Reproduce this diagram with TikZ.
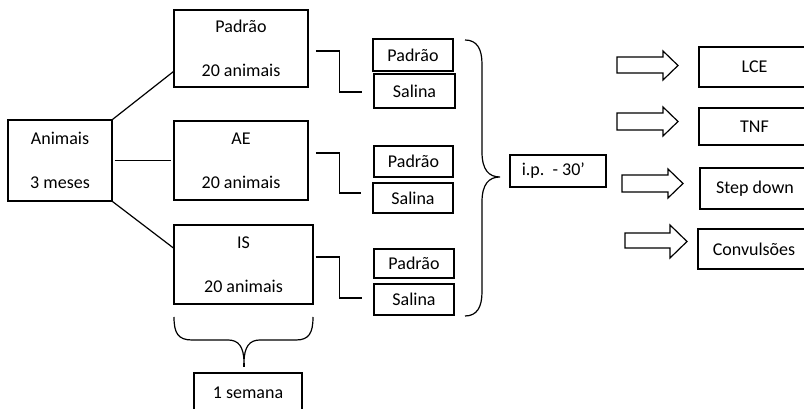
\documentclass[tikz,border=0pt]{standalone}
\usepackage{fontspec}
\setmainfont{Carlito}
\newcommand\pxu{0.75pt}
% block arrow: shaft from x1 to x2 (head start), tip at x3; shaft y-range, head y-range
\newcommand\fatarrow[7]{%
  \draw[line] (#1,#4) -- (#2,#4) -- (#2,#6) -- (#3,{(#6+#7)/2}) -- (#2,#7) -- (#2,#5) -- (#1,#5) -- cycle;}
\begin{document}
\begin{tikzpicture}[x=0.75pt,y=-0.75pt,
  line/.style={draw=black,line width=0.9pt},
  box/.style={draw=black,line width=0.9pt,inner sep=0pt,align=center,
    font=\fontsize{13.5}{33}\selectfont},
  small/.style={box,font=\fontsize{13.5}{15}\selectfont},
  conn/.style={line width=0.9pt}]
\clip (0,0) rectangle (804,409);

% first column
\node[box,minimum width=104*\pxu,minimum height=81*\pxu] (a) at (60,160.5) {Animais\\3 meses};

% groups
\node[box,minimum width=134*\pxu,minimum height=77*\pxu] (p1) at (241,48.5) {Padrão\\20 animais};
\node[box,minimum width=134*\pxu,minimum height=79*\pxu] (ae) at (241,160.5) {AE\\20 animais};
\node[box,minimum width=139*\pxu,minimum height=79*\pxu] (is) at (243.5,264.5) {IS\\20 animais};
\node[small,minimum width=108*\pxu,minimum height=40*\pxu] (sem) at (248,393) {1 semana};

% treatments
\node[small,minimum width=80*\pxu,minimum height=32*\pxu] (pa1) at (413,55) {Padrão};
\node[small,minimum width=81*\pxu,minimum height=34*\pxu] (sa1) at (414.5,91) {Salina};
\node[small,minimum width=79*\pxu,minimum height=31*\pxu] (pa2) at (413.5,161.5) {Padrão};
\node[small,minimum width=80*\pxu,minimum height=30*\pxu] (sa2) at (413,198) {Salina};
\node[small,minimum width=80*\pxu,minimum height=29*\pxu] (pa3) at (414,263.5) {Padrão};
\node[small,minimum width=80*\pxu,minimum height=31*\pxu] (sa3) at (414,299.5) {Salina};

% injection
\node[small,minimum width=96*\pxu,minimum height=32*\pxu] (ip) at (558,171) {i.p.\ \ - 30’\hspace*{7pt}};

% tests
\node[small,minimum width=111*\pxu,minimum height=40*\pxu] (lce) at (754.5,67) {LCE};
\node[small,minimum width=111*\pxu,minimum height=37*\pxu] (tnf) at (754.5,126.5) {TNF};
\node[small,minimum width=110*\pxu,minimum height=41*\pxu] (sd) at (755,188.5) {Step down};
\node[small,minimum width=112*\pxu,minimum height=40*\pxu] (cv) at (754,249) {Convulsões};

% links from the animal box
\draw[conn] (a.north east) -- ([yshift=12pt]p1.south west);
\draw[conn,shorten <=1.5pt,shorten >=1.5pt] (a.east) -- (ae.west);
\draw[conn] (a.south east) -- ([yshift=12.4pt]is.west);

% elbow links to the treatments
\draw[conn,shorten <=5.5pt,shorten >=8.2pt] ([yshift=-1.9pt]p1.east) -- ++(31,0) |- ([yshift=-0.75pt]sa1.west);
\draw[conn,shorten <=5.5pt,shorten >=8.2pt] ([yshift=5.6pt]ae.east) -- ++(31,0) |- ([yshift=3.75pt]sa2.west);
\draw[conn,shorten <=1.5pt,shorten >=8.2pt] ([yshift=5.6pt]is.east) -- ++(26,0) |- ([yshift=1.1pt]sa3.west);

% brace under the groups
\draw[conn] (174,317) .. controls (174,333) and (178,340) .. (192,340) -- (228,340)
  .. controls (238,340) and (244,346) .. (244,363)
  .. controls (244,346) and (250,340) .. (260,340) -- (296,340)
  .. controls (309,340) and (313,333) .. (313,317);
\draw[conn] (244,363) -- (244,367);

% brace joining the treatments
\draw[conn] (465,40) .. controls (477,40) and (482,49) .. (482,64) -- (482,152)
  .. controls (482,170) and (489,177) .. (500,177)
  .. controls (489,177) and (482,184) .. (482,202) -- (482,292)
  .. controls (482,307) and (477,316) .. (465,316);

% block arrows towards the tests
\fatarrow{617}{663}{678}{57}{73}{51}{80}
\fatarrow{617}{663}{678}{113}{130}{107}{136}
\fatarrow{622}{668}{683}{175}{192}{169}{198}
\fatarrow{625}{670}{687}{233}{248}{225}{258}
\end{tikzpicture}
\end{document}
